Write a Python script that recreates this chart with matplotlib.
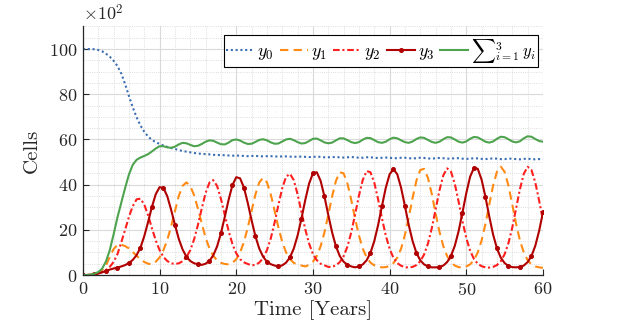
import numpy as np
import matplotlib
matplotlib.use("Agg")
import matplotlib.pyplot as plt
from matplotlib.ticker import MultipleLocator

# time axis, one sample every half year
years = np.linspace(0, 60, 121)

# values (units of 10^2 cells), rows of 5 years
y0 = np.array([
    100.0, 100.0, 100.0, 99.9, 99.6, 99.0, 98.0, 96.6, 94.8, 92.5,
    89.2, 84.5, 79.2, 74.2, 69.8, 66.2, 63.4, 61.3, 59.8, 58.8,
    58.0, 57.3, 56.7, 56.2, 55.8, 55.3, 54.9, 54.6, 54.3, 54.0,
    53.8, 53.6, 53.5, 53.4, 53.2, 53.1, 53.1, 53.0, 52.9, 52.8,
    52.9, 52.8, 52.7, 52.6, 52.7, 52.7, 52.6, 52.5, 52.6, 52.6,
    52.5, 52.4, 52.5, 52.5, 52.4, 52.3, 52.4, 52.4, 52.3, 52.2,
    52.3, 52.4, 52.3, 52.1, 52.1, 52.2, 52.2, 52.1, 52.0, 52.1,
    52.2, 52.1, 51.9, 51.9, 52.1, 52.1, 51.9, 51.8, 51.9, 52.0,
    51.9, 51.7, 51.7, 51.9, 51.9, 51.7, 51.6, 51.7, 51.9, 51.8,
    51.6, 51.5, 51.7, 51.8, 51.7, 51.5, 51.5, 51.7, 51.7, 51.5,
    51.4, 51.5, 51.7, 51.6, 51.4, 51.3, 51.5, 51.6, 51.5, 51.3,
    51.3, 51.5, 51.5, 51.3, 51.2, 51.4, 51.5, 51.3, 51.2, 51.3,
    51.4])

y1 = np.array([
    0.0, 0.0, 0.1, 0.4, 1.0, 2.2, 4.2, 8.0, 11.5, 13.3,
    13.4, 12.8, 11.8, 10.2, 8.5, 7.0, 5.8, 5.0, 4.8, 5.9,
    7.8, 11.0, 15.5, 21.5, 28.2, 35.0, 39.5, 41.0, 39.4, 35.3,
    29.4, 22.8, 16.5, 11.8, 8.5, 6.5, 5.4, 4.9, 4.7, 5.4,
    7.0, 10.0, 14.6, 21.0, 28.4, 35.7, 41.0, 43.0, 41.0, 35.7,
    28.4, 21.0, 14.6, 10.0, 7.0, 5.4, 4.6, 4.2, 3.8, 4.5,
    5.9, 8.4, 12.7, 18.9, 26.6, 34.8, 41.7, 45.5, 45.0, 40.5,
    33.2, 25.0, 17.5, 11.7, 7.8, 5.5, 4.3, 3.7, 3.4, 3.5,
    4.0, 5.3, 7.7, 11.7, 17.8, 25.6, 34.2, 41.8, 46.5, 47.0,
    43.0, 35.9, 27.3, 19.2, 12.8, 8.4, 5.7, 4.2, 3.5, 3.4,
    3.8, 4.7, 6.6, 10.0, 15.3, 22.6, 31.2, 39.6, 45.7, 48.0,
    45.7, 39.6, 31.2, 22.6, 15.3, 10.0, 6.6, 4.7, 3.8, 3.4,
    3.2])

y2 = np.array([
    0.0, 0.0, 0.1, 0.3, 0.7, 1.3, 2.2, 3.6, 5.8, 9.2,
    14.5, 20.0, 25.8, 30.5, 33.5, 33.8, 31.2, 26.4, 20.7, 15.3,
    11.0, 8.0, 6.2, 5.2, 4.9, 5.2, 6.1, 7.9, 11.0, 15.8,
    22.2, 29.5, 36.3, 40.9, 42.0, 39.4, 33.7, 26.6, 19.5, 13.7,
    9.6, 7.0, 5.6, 4.9, 4.3, 4.5, 5.5, 7.5, 11.0, 16.2,
    23.2, 31.1, 38.5, 43.5, 44.8, 42.0, 35.7, 27.9, 20.2, 13.9,
    9.3, 6.6, 5.0, 4.3, 3.6, 3.6, 4.3, 5.7, 8.3, 12.6,
    18.9, 26.8, 35.1, 42.1, 46.0, 45.5, 40.9, 33.5, 25.1, 17.5,
    11.6, 7.6, 5.3, 4.1, 3.5, 3.3, 3.6, 4.4, 6.1, 9.1,
    13.9, 20.7, 29.0, 37.4, 44.1, 47.2, 45.8, 40.4, 32.5, 23.9,
    16.4, 10.8, 7.1, 5.0, 3.9, 3.4, 3.3, 3.6, 4.4, 6.1,
    9.2, 14.1, 21.0, 29.5, 38.0, 44.8, 47.9, 46.5, 41.0, 33.0,
    24.3])

y3 = np.array([
    0.0, 0.0, 0.1, 0.3, 0.7, 1.2, 1.8, 2.4, 2.9, 3.3,
    3.8, 4.4, 5.3, 6.7, 8.8, 12.1, 17.2, 23.5, 30.2, 35.8,
    38.9, 38.5, 34.9, 28.9, 22.2, 16.0, 11.3, 8.1, 6.2, 5.2,
    4.8, 4.5, 5.0, 6.3, 8.7, 12.7, 18.5, 25.7, 33.3, 39.8,
    43.3, 42.8, 38.7, 31.9, 24.2, 17.1, 11.7, 8.1, 5.9, 4.8,
    4.2, 3.8, 4.3, 5.5, 7.8, 11.7, 17.5, 25.0, 33.2, 40.5,
    45.0, 45.5, 41.7, 34.8, 26.6, 18.9, 12.7, 8.4, 5.9, 4.5,
    3.8, 3.4, 3.8, 4.7, 6.5, 9.8, 15.0, 22.1, 30.5, 38.6,
    44.6, 46.8, 44.6, 38.6, 30.5, 22.1, 15.0, 9.8, 6.5, 4.7,
    3.8, 3.4, 3.4, 3.5, 4.2, 5.7, 8.4, 12.9, 19.4, 27.6,
    36.2, 43.5, 47.4, 47.0, 42.2, 34.6, 25.9, 17.9, 11.8, 7.7,
    5.3, 4.0, 3.5, 3.4, 3.6, 4.2, 5.7, 8.4, 12.9, 19.5,
    27.7])

y_sum = np.array([
    0.0, 0.0, 0.2, 0.6, 1.3, 2.8, 6.0, 11.0, 18.0, 25.5,
    32.0, 38.5, 44.5, 48.8, 51.0, 52.0, 52.7, 53.5, 54.7, 56.0,
    57.0, 57.0, 56.5, 56.3, 56.8, 57.8, 58.5, 58.3, 57.6, 57.0,
    57.2, 58.0, 59.0, 59.6, 59.4, 58.6, 57.9, 57.8, 58.6, 59.7,
    60.0, 59.5, 58.6, 58.0, 58.1, 58.9, 59.8, 60.1, 59.6, 58.7,
    58.1, 58.2, 59.1, 60.0, 60.3, 59.7, 58.8, 58.2, 58.4, 59.3,
    60.3, 60.4, 59.6, 58.7, 58.3, 58.6, 59.6, 60.5, 60.5, 59.7,
    58.8, 58.4, 58.8, 59.9, 60.7, 60.6, 59.7, 58.8, 58.5, 59.0,
    60.1, 60.8, 60.5, 59.6, 58.8, 58.5, 59.1, 60.2, 60.9, 60.7,
    59.8, 58.9, 58.5, 59.0, 60.1, 61.0, 60.9, 60.0, 59.0, 58.6,
    59.1, 60.3, 61.1, 60.9, 60.0, 59.0, 58.6, 59.1, 60.3, 61.2,
    61.0, 60.1, 59.1, 58.7, 59.2, 60.5, 61.4, 61.2, 60.2, 59.3,
    59.0])

labels = ['$y_0$', '$y_1$', '$y_2$', '$y_3$', r'$\sum{}_{i=1}^{3}\,y_i$']

plt.rcParams['font.family'] = 'serif'
plt.rcParams['font.serif'] = ['cmr10']
plt.rcParams['mathtext.fontset'] = 'cm'
plt.rcParams['axes.formatter.use_mathtext'] = True


def plot_cells():
    """
    Plots the cell populations over time with the MATLAB look of the reference
    """
    fig = plt.figure(figsize=(6.38, 3.35), dpi=100)
    ax = fig.add_axes([0.130, 0.179, 0.721, 0.742])

    lw = 1.5
    ax.plot(years, y0, color='#3a6db2', lw=lw, dashes=(1, 1.3), label=labels[0])
    ax.plot(years, y1, color='#ff8a14', lw=lw, dashes=(4, 2.5), label=labels[1])
    ax.plot(years, y2, color='#ff1f1f', lw=lw, dashes=(3.2, 1.3, 1, 1.3), label=labels[2])
    ax.plot(years, y3, color='#b00000', lw=lw, marker='o', ms=2.6,
            markevery=3, label=labels[3])
    ax.plot(years, y_sum, color='#4ea34e', lw=lw, label=labels[4])

    ax.set_xlim(0, 60)
    ax.set_ylim(0, 110)
    ax.xaxis.set_major_locator(MultipleLocator(10))
    ax.xaxis.set_minor_locator(MultipleLocator(2))
    ax.yaxis.set_major_locator(MultipleLocator(20))
    ax.yaxis.set_minor_locator(MultipleLocator(5))

    ax.set_axisbelow(True)
    ax.grid(which='major', color='#dadada', lw=0.8)
    ax.grid(which='minor', color='#d2d2d2', lw=0.6, ls=':')

    for side in ['top', 'right']:
        ax.spines[side].set_visible(False)
    for side in ['left', 'bottom']:
        ax.spines[side].set_color('#262626')
        ax.spines[side].set_linewidth(0.9)

    ax.tick_params(which='major', direction='in', length=4, width=0.8,
                   colors='#262626', labelsize=13, pad=4)
    ax.tick_params(which='minor', length=0)

    ax.set_xlabel('Time [Years]', fontsize=15, color='#262626', labelpad=2)
    ax.set_ylabel('Cells', fontsize=15, color='#262626', labelpad=6)
    ax.text(0.0, 1.012, r'$\times10^{2}$', transform=ax.transAxes,
            ha='left', va='bottom', fontsize=13, color='#262626')

    leg = ax.legend(ncol=5, loc='upper right', bbox_to_anchor=(0.989, 0.966),
                    borderaxespad=0, fontsize=13, handlelength=1.55,
                    handletextpad=0.15, columnspacing=0.35, borderpad=0.1,
                    fancybox=False, framealpha=1, edgecolor='black')
    leg.get_frame().set_linewidth(0.8)
    leg.get_texts()[4].set_fontsize(12)

    fig.savefig('out.png', dpi=100)


plot_cells()
